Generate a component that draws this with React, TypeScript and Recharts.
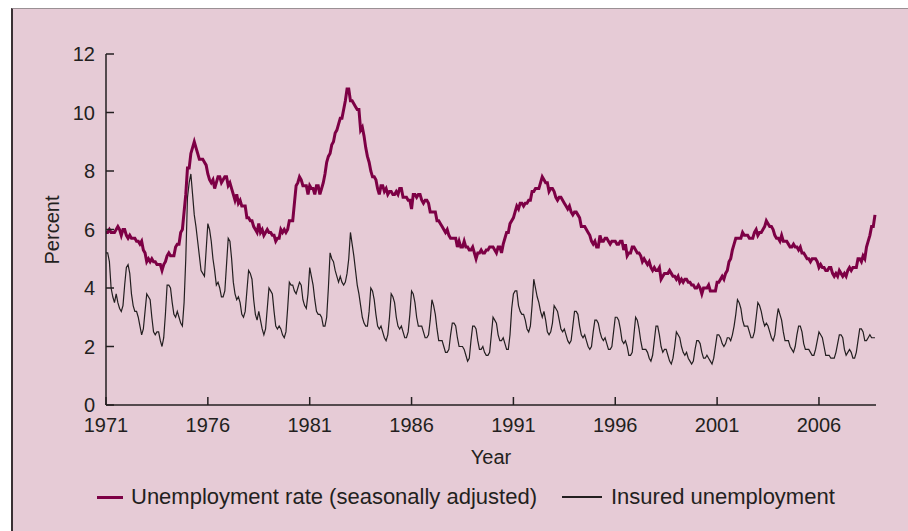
import { LineChart, Line, XAxis, YAxis } from "recharts";

// monthly values, one row per year starting 1971 (last row ends October 2008)
const startYear = 1971;

const unemploymentRate: number[][] = [
  [5.9, 5.9, 6.0, 5.9, 5.9, 5.9, 6.0, 6.1, 6.0, 5.8, 6.0, 6.0],
  [5.8, 5.7, 5.8, 5.7, 5.7, 5.7, 5.6, 5.6, 5.5, 5.6, 5.3, 5.2],
  [4.9, 5.0, 4.9, 5.0, 4.9, 4.9, 4.8, 4.8, 4.8, 4.6, 4.8, 4.9],
  [5.1, 5.2, 5.1, 5.1, 5.1, 5.4, 5.5, 5.5, 5.9, 6.0, 6.6, 7.2],
  [8.1, 8.1, 8.6, 8.8, 9.0, 8.8, 8.6, 8.4, 8.4, 8.4, 8.3, 8.2],
  [7.9, 7.7, 7.6, 7.7, 7.4, 7.6, 7.8, 7.8, 7.6, 7.7, 7.8, 7.8],
  [7.5, 7.6, 7.4, 7.2, 7.0, 7.2, 6.9, 7.0, 6.8, 6.8, 6.8, 6.4],
  [6.4, 6.3, 6.3, 6.1, 6.0, 5.9, 6.2, 5.9, 6.0, 5.8, 5.9, 6.0],
  [5.9, 5.9, 5.8, 5.8, 5.6, 5.7, 5.7, 6.0, 5.9, 6.0, 5.9, 6.0],
  [6.3, 6.3, 6.3, 6.9, 7.5, 7.6, 7.8, 7.7, 7.5, 7.5, 7.5, 7.2],
  [7.5, 7.4, 7.4, 7.2, 7.5, 7.5, 7.2, 7.4, 7.6, 7.9, 8.3, 8.5],
  [8.6, 8.9, 9.0, 9.3, 9.4, 9.6, 9.8, 9.8, 10.1, 10.4, 10.8, 10.8],
  [10.4, 10.4, 10.3, 10.2, 10.1, 10.1, 9.4, 9.5, 9.2, 8.8, 8.5, 8.3],
  [8.0, 7.8, 7.8, 7.7, 7.4, 7.2, 7.5, 7.5, 7.3, 7.4, 7.2, 7.3],
  [7.3, 7.2, 7.2, 7.3, 7.2, 7.4, 7.4, 7.1, 7.1, 7.1, 7.0, 7.0],
  [6.7, 7.2, 7.2, 7.1, 7.2, 7.2, 7.0, 6.9, 7.0, 7.0, 6.9, 6.6],
  [6.6, 6.6, 6.6, 6.3, 6.3, 6.2, 6.1, 6.0, 5.9, 6.0, 5.8, 5.7],
  [5.7, 5.7, 5.7, 5.4, 5.6, 5.4, 5.4, 5.6, 5.4, 5.4, 5.3, 5.3],
  [5.4, 5.2, 5.0, 5.2, 5.2, 5.3, 5.2, 5.2, 5.3, 5.3, 5.4, 5.4],
  [5.4, 5.3, 5.2, 5.4, 5.4, 5.2, 5.5, 5.7, 5.9, 5.9, 6.2, 6.3],
  [6.4, 6.6, 6.8, 6.7, 6.9, 6.9, 6.8, 6.9, 6.9, 7.0, 7.0, 7.3],
  [7.3, 7.4, 7.4, 7.4, 7.6, 7.8, 7.7, 7.6, 7.6, 7.3, 7.4, 7.4],
  [7.3, 7.1, 7.0, 7.1, 7.1, 7.0, 6.9, 6.8, 6.7, 6.8, 6.6, 6.5],
  [6.6, 6.6, 6.5, 6.4, 6.1, 6.1, 6.1, 6.0, 5.9, 5.8, 5.6, 5.5],
  [5.6, 5.4, 5.4, 5.8, 5.6, 5.6, 5.7, 5.7, 5.6, 5.5, 5.6, 5.6],
  [5.6, 5.5, 5.5, 5.6, 5.6, 5.3, 5.5, 5.1, 5.2, 5.2, 5.4, 5.4],
  [5.3, 5.2, 5.2, 5.1, 4.9, 5.0, 4.9, 4.8, 4.9, 4.7, 4.6, 4.7],
  [4.6, 4.6, 4.7, 4.3, 4.4, 4.5, 4.5, 4.5, 4.6, 4.5, 4.4, 4.4],
  [4.3, 4.4, 4.2, 4.3, 4.2, 4.3, 4.3, 4.2, 4.2, 4.1, 4.1, 4.0],
  [4.0, 4.1, 4.0, 3.8, 4.0, 4.0, 4.0, 4.1, 3.9, 3.9, 3.9, 3.9],
  [4.2, 4.2, 4.3, 4.4, 4.3, 4.5, 4.6, 4.9, 5.0, 5.3, 5.5, 5.7],
  [5.7, 5.7, 5.7, 5.9, 5.8, 5.8, 5.8, 5.7, 5.7, 5.7, 5.9, 6.0],
  [5.8, 5.9, 5.9, 6.0, 6.1, 6.3, 6.2, 6.1, 6.1, 6.0, 5.8, 5.7],
  [5.7, 5.6, 5.8, 5.6, 5.6, 5.6, 5.5, 5.4, 5.4, 5.5, 5.4, 5.4],
  [5.3, 5.4, 5.2, 5.2, 5.1, 5.0, 5.0, 4.9, 5.0, 5.0, 5.0, 4.9],
  [4.7, 4.8, 4.7, 4.7, 4.6, 4.6, 4.7, 4.7, 4.5, 4.4, 4.5, 4.4],
  [4.6, 4.5, 4.4, 4.5, 4.4, 4.6, 4.7, 4.6, 4.7, 4.7, 4.7, 5.0],
  [5.0, 4.9, 5.1, 5.0, 5.4, 5.6, 5.8, 6.1, 6.1, 6.5],
];

const insuredUnemployment: number[][] = [
  [5.2, 5.2, 4.9, 4.0, 3.7, 3.5, 3.8, 3.5, 3.3, 3.2, 3.4, 4.1],
  [4.7, 4.8, 4.5, 3.8, 3.4, 3.2, 3.2, 3.0, 2.7, 2.4, 2.6, 3.2],
  [3.8, 3.7, 3.6, 3.0, 2.5, 2.4, 2.5, 2.5, 2.2, 2.0, 2.3, 3.1],
  [4.1, 4.1, 4.0, 3.5, 3.1, 3.0, 3.2, 3.0, 2.8, 2.7, 3.5, 5.0],
  [7.1, 7.6, 7.9, 7.2, 6.5, 6.1, 5.6, 5.1, 4.6, 4.5, 4.4, 5.3],
  [6.2, 6.0, 5.6, 5.0, 4.6, 4.1, 4.2, 4.0, 3.7, 3.7, 3.9, 4.8],
  [5.7, 5.6, 5.0, 4.2, 3.8, 3.6, 3.7, 3.5, 3.1, 3.0, 3.2, 3.9],
  [4.6, 4.5, 4.3, 3.6, 3.1, 2.9, 3.2, 2.9, 2.6, 2.4, 2.6, 3.3],
  [4.0, 3.9, 3.8, 3.2, 2.7, 2.6, 2.7, 2.6, 2.4, 2.3, 2.5, 3.3],
  [4.2, 4.1, 4.1, 3.9, 3.8, 4.0, 4.2, 4.1, 3.6, 3.4, 3.3, 3.8],
  [4.7, 4.4, 4.1, 3.6, 3.2, 3.1, 3.1, 3.0, 2.7, 2.7, 3.0, 4.0],
  [5.2, 5.0, 4.9, 4.6, 4.4, 4.2, 4.4, 4.2, 4.1, 4.2, 4.5, 5.0],
  [5.9, 5.5, 5.1, 4.6, 4.1, 3.8, 3.4, 3.0, 2.8, 2.7, 2.7, 3.2],
  [4.0, 3.9, 3.6, 3.1, 2.7, 2.6, 2.7, 2.5, 2.3, 2.2, 2.4, 3.0],
  [3.8, 3.7, 3.5, 3.0, 2.7, 2.6, 2.7, 2.5, 2.3, 2.3, 2.5, 3.1],
  [3.9, 3.8, 3.5, 3.0, 2.7, 2.7, 2.7, 2.5, 2.3, 2.3, 2.4, 2.9],
  [3.6, 3.4, 3.1, 2.6, 2.2, 2.2, 2.2, 2.0, 1.8, 1.8, 1.9, 2.4],
  [2.8, 2.8, 2.7, 2.3, 2.0, 2.0, 2.0, 1.9, 1.7, 1.5, 1.6, 2.2],
  [2.7, 2.7, 2.6, 2.2, 1.9, 1.9, 2.0, 1.8, 1.7, 1.7, 1.8, 2.4],
  [3.0, 2.9, 2.8, 2.4, 2.2, 2.2, 2.3, 2.1, 1.9, 1.9, 2.4, 3.3],
  [3.8, 3.9, 3.9, 3.4, 3.2, 3.1, 3.1, 2.9, 2.6, 2.5, 2.7, 3.4],
  [4.3, 4.0, 3.7, 3.5, 3.2, 3.0, 3.2, 2.9, 2.5, 2.4, 2.5, 2.8],
  [3.4, 3.3, 3.2, 2.9, 2.6, 2.5, 2.6, 2.4, 2.2, 2.1, 2.2, 2.7],
  [3.2, 3.2, 3.1, 2.7, 2.4, 2.3, 2.4, 2.2, 2.0, 1.9, 2.0, 2.5],
  [2.9, 2.9, 2.8, 2.5, 2.3, 2.2, 2.3, 2.1, 1.9, 1.9, 2.0, 2.5],
  [3.0, 3.0, 2.9, 2.6, 2.2, 2.1, 2.2, 2.0, 1.7, 1.7, 1.8, 2.4],
  [3.0, 2.9, 2.6, 2.2, 1.9, 1.9, 1.9, 1.8, 1.6, 1.5, 1.7, 2.2],
  [2.7, 2.7, 2.4, 2.0, 1.8, 1.9, 1.9, 1.7, 1.5, 1.4, 1.6, 2.0],
  [2.5, 2.4, 2.3, 2.0, 1.8, 1.7, 1.8, 1.6, 1.5, 1.4, 1.5, 1.9],
  [2.2, 2.2, 2.1, 1.8, 1.6, 1.6, 1.7, 1.6, 1.5, 1.4, 1.6, 2.0],
  [2.4, 2.4, 2.3, 2.1, 2.0, 2.1, 2.3, 2.3, 2.2, 2.4, 2.7, 3.1],
  [3.6, 3.5, 3.3, 2.9, 2.7, 2.7, 2.7, 2.5, 2.3, 2.3, 2.5, 3.0],
  [3.5, 3.4, 3.2, 2.9, 2.7, 2.8, 2.7, 2.5, 2.3, 2.2, 2.4, 2.9],
  [3.3, 3.1, 2.9, 2.5, 2.2, 2.2, 2.2, 2.0, 1.9, 1.8, 2.0, 2.4],
  [2.7, 2.7, 2.5, 2.1, 1.9, 1.9, 1.9, 1.8, 1.7, 1.7, 1.9, 2.2],
  [2.5, 2.4, 2.3, 2.0, 1.7, 1.7, 1.7, 1.6, 1.6, 1.6, 1.8, 2.1],
  [2.4, 2.4, 2.3, 1.9, 1.7, 1.8, 1.9, 1.8, 1.6, 1.6, 1.8, 2.2],
  [2.6, 2.6, 2.5, 2.2, 2.2, 2.3, 2.4, 2.3, 2.3, 2.3],
];

const xTicks = [1971, 1976, 1981, 1986, 1991, 1996, 2001, 2006];
const yTicks = [0, 2, 4, 6, 8, 10, 12];

const RED = "#7d0045";
const INK = "#231f20";
const FONT = "'Liberation Sans', Arial, Helvetica, sans-serif";

const chartData = unemploymentRate.flatMap((row, yi) =>
  row.map((rate, mi) => ({
    t: startYear + yi + mi / 12,
    rate,
    insured: insuredUnemployment[yi][mi],
  }))
);

export default function App() {
  return (
    <div style={{ position: "fixed", left: 0, top: 0, width: 908, height: 531, background: "#fff", overflow: "hidden", fontFamily: FONT }}>
      <div
        style={{
          position: "absolute",
          left: 11,
          top: 8,
          width: 910,
          height: 540,
          background: "#e6cbd6",
          borderLeft: "2px solid #3a3034",
          borderTop: "1px solid #9a9094",
          boxSizing: "border-box",
        }}
      />
      <div style={{ position: "absolute", left: 0, top: 0 }}>
        <LineChart width={908} height={531} data={chartData} margin={{ top: 54, right: 32, bottom: 96, left: 0 }}>
          <XAxis
            dataKey="t"
            type="number"
            domain={[1971, 2008.8]}
            ticks={xTicks}
            interval={0}
            stroke={INK}
            strokeWidth={1.5}
            tickSize={-8}
            tickMargin={21}
            tick={{ fill: INK, fontSize: 20, fontFamily: FONT }}
            height={30}
          />
          <YAxis
            type="number"
            domain={[0, 12]}
            ticks={yTicks}
            interval={0}
            width={106}
            stroke={INK}
            strokeWidth={1.5}
            tickSize={-8}
            tickMargin={19}
            tick={{ fill: INK, fontSize: 20, fontFamily: FONT }}
          />
          <Line type="linear" dataKey="insured" stroke={INK} strokeWidth={1.2} dot={false} isAnimationActive={false} />
          <Line type="linear" dataKey="rate" stroke={RED} strokeWidth={3} dot={false} isAnimationActive={false} />
        </LineChart>
      </div>
      <div
        style={{
          position: "absolute",
          left: 52,
          top: 230,
          transform: "translate(-50%, -50%) rotate(-90deg)",
          fontSize: 20,
          color: INK,
          whiteSpace: "nowrap",
        }}
      >
        Percent
      </div>
      <div
        style={{
          position: "absolute",
          left: 491,
          top: 457,
          transform: "translate(-50%, -50%)",
          fontSize: 20,
          color: INK,
        }}
      >
        Year
      </div>
      <div style={{ position: "absolute", left: 97, top: 484, height: 26, display: "flex", alignItems: "center", fontSize: 22, color: INK, whiteSpace: "nowrap" }}>
        <span style={{ display: "inline-block", width: 26, height: 3, background: RED, marginRight: 8 }} />
        <span>Unemployment rate (seasonally adjusted)</span>
        <span style={{ display: "inline-block", width: 40, height: 1.3, background: INK, marginLeft: 25, marginRight: 9 }} />
        <span>Insured unemployment</span>
      </div>
    </div>
  );
}
